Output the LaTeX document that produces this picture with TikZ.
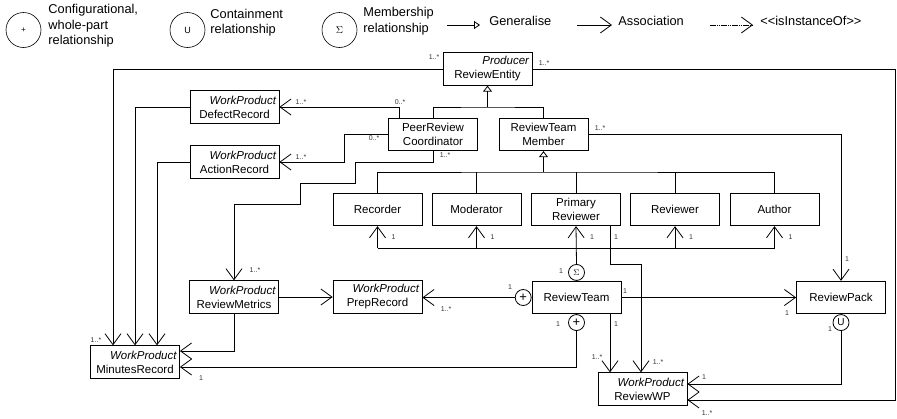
\documentclass[tikz,border=0pt]{standalone}
\usepackage{fontspec}
\setmainfont{Liberation Sans}
\usetikzlibrary{arrows.meta,calc}
\newcommand\bxf{\fontsize{11.5}{14}\selectfont}
\newcommand\mlf{\fontsize{7}{8}\selectfont}
\newcommand\lgf{\fontsize{12.8}{15.6}\selectfont}
\begin{document}
\begin{tikzpicture}[x=1pt,y=-1pt,line width=0.8pt,
  box/.style={draw, minimum width=89pt, minimum height=32.5pt, inner sep=0pt, align=center, font=\bxf},
  assoc/.style={-{Straight Barb[length=11pt,width=16pt]}},
  gen/.style={line width=1.8pt, -{Triangle[open,length=6pt,width=9pt,line width=0.8pt]}},
  mult/.style={font=\mlf, inner sep=0pt, text=black!80},
  agg/.style={draw, circle, minimum size=16pt, inner sep=0pt, fill=white},
  lgcirc/.style={draw, circle, minimum size=35pt, inner sep=0pt, line width=0.6pt},
  lgtxt/.style={font=\lgf, inner sep=0pt, align=left, anchor=west}]

\useasboundingbox (0,0) rectangle (897,418);

% ---------- legend ----------
\node[lgcirc] (lgplus) at (23.5,30) {\fontsize{8}{8}\selectfont +};
\node[lgtxt] (lgplust) at (48,26) {Configurational,\\whole-part\\relationship};
\node[lgcirc] (lgu) at (187.5,30) {\fontsize{9}{9}\selectfont U};
\node[lgtxt] (lgut) at (210,22.5) {Containment\\relationship};
\node[lgcirc] (lgs) at (339.5,30) {$\Sigma$};
\node[lgtxt] (lgst) at (363,21) {Membership\\relationship};

\coordinate (lgA1) at (447,25); \coordinate (lgA2) at (480,25);
\draw[line width=0.8pt,-{Triangle[open,length=6pt,width=8pt]}] (lgA1) -- (lgA2);
\node[lgtxt] (lgAt) at (489,21) {Generalise};
\coordinate (lgB1) at (577,25); \coordinate (lgB2) at (612,25);
\draw[assoc] (lgB1) -- (lgB2);
\node[lgtxt] (lgBt) at (618,21) {Association};
\coordinate (lgC1) at (710,25); \coordinate (lgC2) at (753,25);
\draw[assoc, dash pattern=on 1.6pt off 0.6pt] (lgC1) -- (lgC2);
\node[lgtxt] (lgCt) at (760,21) {<\kern0pt<isInstanceOf>\kern0pt>};

% ---------- boxes ----------
\node[box] (re) at (487.5,69) {\makebox[83pt][r]{\itshape Producer}\\ReviewEntity};
\node[box] (defect) at (234.5,107) {\makebox[83pt][r]{\itshape WorkProduct}\\DefectRecord};
\node[box] (action) at (234.5,162) {\makebox[83pt][r]{\itshape WorkProduct}\\ActionRecord};
\node[box] (prc) at (433,134.5) {PeerReview\\Coordinator};
\node[box] (rtm) at (543.5,134.5) {ReviewTeam\\Member};
\node[box] (rec) at (377.5,209.5) {Recorder};
\node[box] (mod) at (476.5,209.5) {Moderator};
\node[box] (pr) at (576,209.5) {Primary\\Reviewer};
\node[box] (rev) at (675,209.5) {Reviewer};
\node[box] (auth) at (774.5,209.5) {Author};
\node[box] (rm) at (234,297) {\makebox[83pt][r]{\itshape WorkProduct}\\ReviewMetrics};
\node[box] (prep) at (377.5,297) {\makebox[83pt][r]{\itshape WorkProduct}\\PrepRecord};
\node[box] (rt) at (576.5,297.5) {ReviewTeam};
\node[box] (pack) at (841,297.5) {ReviewPack};
\node[box] (minutes) at (135,362) {\makebox[83pt][r]{\itshape WorkProduct}\\MinutesRecord};
\node[box] (wp) at (642.5,389) {\makebox[83pt][r]{\itshape WorkProduct}\\ReviewWP};

% ---------- relationship circles ----------
\node[agg, anchor=south] (sig) at (rt.north) {\fontsize{8}{8}\selectfont$\Sigma$};
\node[agg, anchor=east] (pl) at (rt.west) {\fontsize{13}{13}\selectfont +};
\node[agg, anchor=north] (pb) at (rt.south) {\fontsize{13}{13}\selectfont +};
\node[agg, anchor=north] (pu) at (pack.south) {\fontsize{10}{10}\selectfont U};

% ---------- generalisation ----------
\coordinate (g1) at (487.5,107);
\draw (prc.north) |- (g1) -| (rtm.north);
\draw[gen] (g1) -- (re.south);
\coordinate (g2) at (543.5,172);
\draw (rec.north) |- (g2) -| (auth.north);
\draw (mod.north) -- (mod.north |- g2);
\draw (pr.north) -- (pr.north |- g2);
\draw (rev.north) -- (rev.north |- g2);
\draw[gen] (g2) -- (rtm.south);

% ---------- membership ----------
\coordinate (m1) at (576,248);
\draw (rec.south |- m1) -- (auth.south |- m1);
\draw[assoc] (sig.north) -- (pr.south);
\foreach \b in {rec,mod,rev,auth} \draw[assoc] (\b.south |- m1) -- (\b.south);
\foreach \b in {rec,mod,pr,rev,auth} \node[mult] at ($(\b.south)+(16,11)$) {1};
\node[mult] at (561,271) {1};

% ---------- associations ----------
\coordinate (lc) at (113,69);
\draw[assoc] (re.west) -- (lc) -- (lc |- minutes.north);
\coordinate (rc) at (895,69);
\draw[assoc] (re.east) -- (rc) |- ($(wp.east)+(0,11)$);
\draw[assoc] (defect.west) -| (minutes.north);
\coordinate (mn2) at ($(minutes.north)+(22,0)$);
\draw[assoc] (action.west) -| (mn2);
\coordinate (pd) at ($(prc.north)+(-34,0)$);
\draw[assoc] (pd) |- (defect.east);
\draw[assoc] (prc.west) -- ++(-44,0) |- (action.east);
\draw[assoc] (prc.south) -- ++(0,11) -- ++(-78,0) -- ++(0,21) -- ++(-55,0) -- ++(0,21) -| (rm.north);
\draw[assoc] (rm.east) -- (prep.west);
\draw[assoc] (rm.south) |- ($(minutes.east)+(0,-11)$);
\draw[assoc] (rtm.east) -| (pack.north);
\draw[assoc] (rt.east) -- (pack.west);
\draw[assoc] (pl.west) -- (pl.west -| prep.east);
\draw[assoc] (pb.south) |- ($(minutes.east)+(0,5)$);
\draw[assoc] (pu.south) |- ($(wp.east)+(0,-5)$);
\coordinate (b1) at (641,264);
\draw[assoc] ($(pr.south)+(34,0)$) |- (b1) -- (b1 |- wp.north);
\coordinate (rtb) at ($(rt.south)+(33.5,0)$);
\draw[assoc] (rtb) -- (rtb |- wp.north);

% ---------- multiplicities ----------
\node[mult] at (434,57) {1..*};
\node[mult] at (544,63) {1..*};
\node[mult] at (301,102) {1..*};
\node[mult] at (400,102) {0..*};
\node[mult] at (301,157) {1..*};
\node[mult] at (374,138) {0..*};
\node[mult] at (445,155) {1..*};
\node[mult] at (600,128) {1..*};
\node[mult] at (255,270) {1..*};
\node[mult] at (96,340) {1..*};
\node[mult] at (201,378) {1};
\node[mult] at (446,309) {1..*};
\node[mult] at (510,287) {1};
\node[mult] at (616,237) {1};
\node[mult] at (625,291) {1};
\node[mult] at (558,324) {1};
\node[mult] at (616,324) {1};
\node[mult] at (597,357) {1..*};
\node[mult] at (658,362) {1..*};
\node[mult] at (787,313) {1};
\node[mult] at (847,259) {1};
\node[mult] at (830,329) {1};
\node[mult] at (704,377) {1};
\node[mult] at (707,413) {1..*};
\end{tikzpicture}
\end{document}
